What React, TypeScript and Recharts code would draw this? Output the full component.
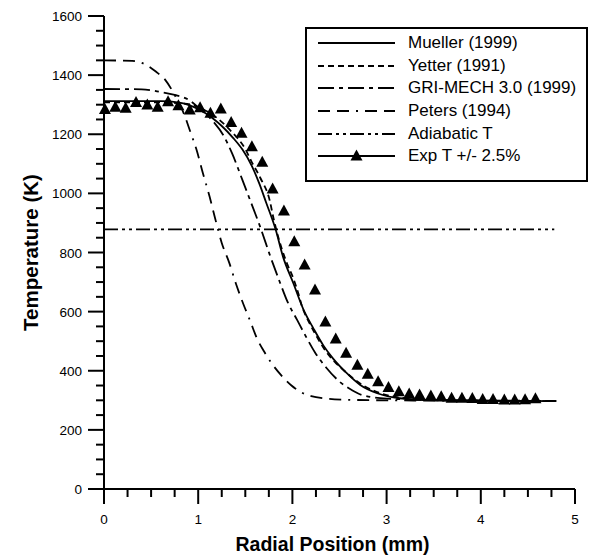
import { LineChart, Line, XAxis, YAxis, Legend, Label } from "recharts";

const FONT = '"Liberation Sans", Arial, Helvetica, sans-serif';

// axis ticks (minor every 0.25 mm / 50 K, labels on the majors)
const xTicks = [0, 0.25, 0.5, 0.75, 1, 1.25, 1.5, 1.75, 2, 2.25, 2.5, 2.75, 3, 3.25, 3.5, 3.75, 4, 4.25, 4.5, 4.75, 5];
const yTicks = [
  0, 50, 100, 150, 200, 250, 300, 350, 400, 450, 500, 550, 600, 650, 700, 750, 800,
  850, 900, 950, 1000, 1050, 1100, 1150, 1200, 1250, 1300, 1350, 1400, 1450, 1500, 1550, 1600,
];

// model curves, radial position (mm) vs temperature (K)
const muellerX = [0, 0.6, 0.8, 0.91, 1.02, 1.15, 1.25, 1.37, 1.47, 1.57, 1.65, 1.72, 1.82, 1.9, 2.01, 2.13, 2.22, 2.33, 2.43, 2.58, 2.72, 2.9, 3.14, 3.5, 4.8];
const muellerT = [1312, 1312, 1307, 1298, 1282, 1255, 1228, 1188, 1148, 1092, 1032, 970, 880, 786, 696, 598, 545, 485, 442, 391, 352, 324, 307, 300, 297];

const yetterX = [0, 0.6, 0.8, 0.95, 1.05, 1.2, 1.35, 1.5, 1.57, 1.66, 1.76, 1.8, 1.87, 1.94, 2.01, 2.06, 2.1, 2.18, 2.26, 2.35, 2.45, 2.55, 2.65, 2.77, 2.9, 3.05, 3.3, 3.6, 4.8];
const yetterT = [1308, 1308, 1305, 1298, 1285, 1255, 1210, 1150, 1105, 1052, 975, 915, 830, 765, 712, 665, 620, 562, 515, 468, 430, 400, 373, 347, 328, 314, 304, 300, 297];

const griX = [0, 0.4, 0.6, 0.75, 0.9, 1.02, 1.16, 1.27, 1.36, 1.47, 1.55, 1.66, 1.76, 1.87, 1.95, 2.05, 2.15, 2.24, 2.36, 2.52, 2.63, 2.74, 3.0, 3.5, 4.8];
const griT = [1353, 1352, 1343, 1333, 1316, 1285, 1243, 1195, 1135, 1045, 978, 885, 792, 697, 632, 572, 512, 462, 410, 358, 335, 318, 306, 301, 298];

const petersX = [0, 0.3, 0.45, 0.55, 0.65, 0.75, 0.85, 0.92, 0.98, 1.05, 1.12, 1.18, 1.25, 1.33, 1.4, 1.48, 1.55, 1.62, 1.7, 1.78, 1.88, 1.99, 2.1, 2.2, 2.35, 2.55, 3.0, 4.8];
const petersT = [1450, 1448, 1434, 1412, 1384, 1333, 1268, 1205, 1150, 1068, 990, 915, 832, 765, 695, 625, 570, 512, 465, 425, 385, 350, 326, 314, 306, 302, 300, 298];

const adiabaticX = [0, 4.78];
const adiabaticT = [878, 878];

// measured temperatures
const expX = [
  0.01, 0.12, 0.23, 0.34, 0.46, 0.57, 0.68, 0.79, 0.91, 1.02, 1.13, 1.24, 1.35, 1.46,
  1.57, 1.68, 1.79, 1.91, 2.02, 2.13, 2.24, 2.35, 2.46, 2.57, 2.69, 2.8, 2.91, 3.02,
  3.13, 3.24, 3.35, 3.47, 3.58, 3.69, 3.8, 3.91, 4.02, 4.13, 4.25, 4.36, 4.47, 4.58,
];
const expT = [
  1284, 1291, 1288, 1307, 1299, 1291, 1310, 1296, 1282, 1290, 1271, 1285, 1240, 1203,
  1158, 1105, 1015, 940, 836, 758, 673, 565, 507, 459, 419, 388, 363, 343,
  329, 321, 318, 315, 312, 307, 307, 306, 303, 303, 301, 301, 302, 305,
];

const pts = (xs: number[], ts: number[]) => xs.map((x, i) => ({ x, t: ts[i] }));

type Series = { name: string; data: { x: number; t: number }[]; dash?: string; marker?: boolean };

const series: Series[] = [
  { name: "Mueller (1999)", data: pts(muellerX, muellerT) },
  { name: "Yetter (1991)", data: pts(yetterX, yetterT), dash: "6 4" },
  { name: "GRI-MECH 3.0 (1999)", data: pts(griX, griT), dash: "16 5 4 5" },
  { name: "Peters (1994)", data: pts(petersX, petersT), dash: "12 7 12 7 2 7" },
  { name: "Adiabatic T", data: pts(adiabaticX, adiabaticT), dash: "14 4 3 4 3 4" },
  { name: "Exp T +/- 2.5%", data: pts(expX, expT), marker: true },
];

function Tri({ cx, cy }: { cx: number; cy: number }) {
  return <polygon points={`${cx},${cy - 6.5} ${cx - 6},${cy + 4.5} ${cx + 6},${cy + 4.5}`} fill="#000" />;
}

function XTick({ x, y, payload }: any) {
  const v = payload.value;
  const major = Math.abs(v - Math.round(v)) < 1e-6;
  return (
    <g>
      <line x1={x} x2={x} y1={y} y2={y + (major ? 15 : 8)} stroke="#000" strokeWidth={2} />
      {major && (
        <text x={x} y={y + 35} textAnchor="middle" fontSize={13.5} fontFamily={FONT} fill="#000">
          {v}
        </text>
      )}
    </g>
  );
}

function YTick({ x, y, payload }: any) {
  const v = payload.value;
  const major = v % 200 === 0;
  return (
    <g>
      <line x1={x} x2={x - (major ? 16 : 8)} y1={y} y2={y} stroke="#000" strokeWidth={2} />
      {major && (
        <text x={x - 22} y={y + 5} textAnchor="end" fontSize={13.5} fontFamily={FONT} fill="#000">
          {v}
        </text>
      )}
    </g>
  );
}

function LegendBox() {
  return (
    <div
      style={{
        border: "2px solid #000",
        background: "#fff",
        padding: "3px 10px 12px 11px",
        fontFamily: FONT,
        fontSize: 17,
        color: "#000",
      }}
    >
      {series.map((s) => (
        <div key={s.name} style={{ display: "flex", alignItems: "center", height: 22.6 }}>
          <svg width={77} height={14} style={{ marginRight: 13, flex: "none" }}>
            <line x1={0} x2={77} y1={7} y2={7} stroke="#000" strokeWidth={1.8} strokeDasharray={s.dash} />
            {s.marker && <Tri cx={38.5} cy={7} />}
          </svg>
          <span style={{ whiteSpace: "nowrap" }}>{s.name}</span>
        </div>
      ))}
    </div>
  );
}

export default function App() {
  return (
    <div style={{ position: "absolute", left: 0, top: 0 }}>
      <LineChart width={591} height={555} margin={{ top: 16, right: 16, bottom: 0, left: 0 }}>
        <XAxis
          dataKey="x"
          type="number"
          domain={[0, 5]}
          ticks={xTicks}
          interval={0}
          height={66}
          tickSize={0}
          tickMargin={0}
          tickLine={false}
          tick={XTick}
          axisLine={{ stroke: "#000", strokeWidth: 2 }}
        >
          <Label
            content={({ viewBox }: any) => (
              <text
                x={viewBox.x + viewBox.width / 2 - 7}
                y={viewBox.y + viewBox.height - 4}
                textAnchor="middle"
                fontSize={19.5}
                fontWeight={700}
                fontFamily={FONT}
                fill="#000"
              >
                Radial Position (mm)
              </text>
            )}
          />
        </XAxis>
        <YAxis
          type="number"
          domain={[0, 1600]}
          ticks={yTicks}
          interval={0}
          width={104}
          tickSize={0}
          tickMargin={0}
          tickLine={false}
          tick={YTick}
          axisLine={{ stroke: "#000", strokeWidth: 2 }}
        >
          <Label
            content={({ viewBox }: any) => {
              const cx = viewBox.x + 30;
              const cy = viewBox.y + viewBox.height / 2;
              return (
                <text
                  x={cx}
                  y={cy}
                  transform={`rotate(-90 ${cx} ${cy})`}
                  textAnchor="middle"
                  dominantBaseline="central"
                  fontSize={20.5}
                  fontWeight={700}
                  fontFamily={FONT}
                  fill="#000"
                >
                  Temperature (K)
                </text>
              );
            }}
          />
        </YAxis>
        <Legend
          layout="vertical"
          align="center"
          verticalAlign="middle"
          wrapperStyle={{ left: 305, top: 27, width: "auto" }}
          content={() => <LegendBox />}
        />
        {series.map((s) =>
          s.marker ? (
            <Line
              key={s.name}
              name={s.name}
              data={s.data}
              dataKey="t"
              stroke="none"
              isAnimationActive={false}
              dot={(p: any) => <Tri key={p.index} cx={p.cx} cy={p.cy} />}
              activeDot={false}
            />
          ) : (
            <Line
              key={s.name}
              name={s.name}
              data={s.data}
              dataKey="t"
              type="monotone"
              stroke="#000"
              strokeWidth={1.8}
              strokeDasharray={s.dash}
              dot={false}
              activeDot={false}
              isAnimationActive={false}
            />
          )
        )}
      </LineChart>
    </div>
  );
}
